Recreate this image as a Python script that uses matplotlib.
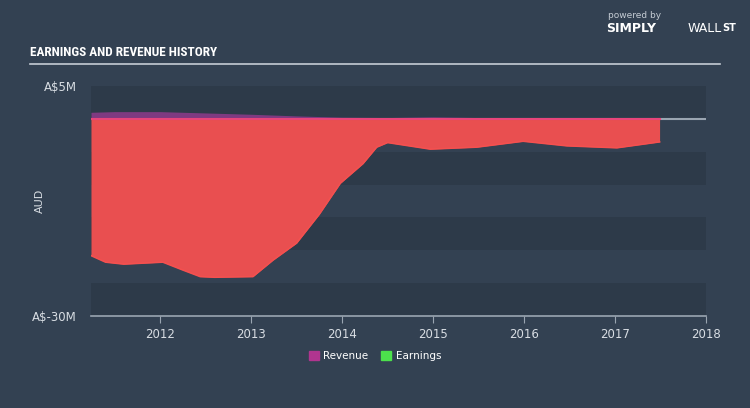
import matplotlib.pyplot as plt
import numpy as np

# data (A$ millions)
years_earn = [2011.24, 2011.40, 2011.60, 2012.03, 2012.25, 2012.44, 2012.60,
              2013.02, 2013.24, 2013.50, 2013.75, 2013.98, 2014.23, 2014.38,
              2014.50, 2014.97, 2015.48, 2015.99, 2016.47, 2017.02, 2017.49]
earnings = [-20.8, -21.8, -22.1, -21.8, -23.0, -24.0, -24.1,
            -24.0, -21.5, -18.9, -14.5, -9.8, -6.8, -4.3,
            -3.6, -4.6, -4.3, -3.4, -4.1, -4.4, -3.5]

years_rev = [2011.24, 2011.5, 2012.0, 2012.5, 2013.0, 2013.5, 2014.0,
             2014.5, 2015.0, 2015.5, 2016.0, 2016.5, 2017.0, 2017.49]
revenue = [1.0, 1.1, 1.1, 0.9, 0.7, 0.45, 0.25,
           0.2, 0.3, 0.2, 0.1, 0.1, 0.1, 0.1]

year_ticks = [2012, 2013, 2014, 2015, 2016, 2017, 2018]
y_ticks = [5, -30]
y_tick_labels = ['A$5M', 'A$-30M']

bg = '#334152'
band = '#2d3a49'
txt = '#d8dde3'

fig = plt.figure(figsize=(7.5, 4.08), dpi=100, facecolor=bg)
ax = fig.add_axes([0.1213, 0.2255, 0.82, 0.5637])
ax.set_facecolor(bg)

# horizontal bands
for lo in [0, -10, -20, -30]:
    ax.axhspan(lo, lo + 5, color=band, zorder=0, lw=0)

ax.axhline(0, color='#9aa5b1', lw=1.5, zorder=1)

ax.fill_between(years_rev, 0, revenue, color='#8e3a8c', alpha=0.85, lw=0, zorder=2)
ax.fill_between(years_earn, 0, earnings, color='#e94f50', lw=0, zorder=3)
ax.plot(years_earn, earnings, color='#f4504f', lw=1.2, zorder=4)
ax.plot([years_earn[0], years_earn[-1]], [0, 0], color='#e8457a', lw=1.5, zorder=5)

ax.set_xlim(2011.24, 2018)
ax.set_ylim(-30, 5)

ax.set_yticks(y_ticks)
ax.set_yticklabels(y_tick_labels)
ax.set_xticks(year_ticks)
ax.set_xticklabels([str(y) for y in year_ticks])
ax.tick_params(axis='y', length=0, colors=txt, labelsize=8.5, pad=10)
ax.tick_params(axis='x', length=5, color='#9aa5b1', colors=txt, labelsize=8.5, pad=4)
for s in ['top', 'right', 'left']:
    ax.spines[s].set_visible(False)
ax.spines['bottom'].set_color('#9aa5b1')
ax.spines['bottom'].set_linewidth(1.2)

ax.set_ylabel('AUD', color=txt, fontsize=8)
ax.yaxis.set_label_coords((45 - 91) / 615, 0.5)

# title and rule
fig.text(30 / 750, 1 - 53 / 408, 'EARNINGS AND REVENUE HISTORY', color='white',
         fontsize=9.5, fontweight='bold',
         family=['Roboto Condensed', 'Roboto', 'DejaVu Sans'], va='center', ha='left')
fig.add_artist(plt.Line2D([30 / 750, 720 / 750], [1 - 64 / 408, 1 - 64 / 408],
                          color='#c5ccd4', lw=1.2))

# logo text
fig.text(608 / 750, 1 - 15 / 408, 'powered by', color='#c5ccd4', fontsize=6.5,
         ha='left', va='center')
fig.text(606 / 750, 1 - 28 / 408, 'SIMPLY', color='white', fontsize=9,
         fontweight='bold', ha='left', va='center')
fig.text(688 / 750, 1 - 28 / 408, 'WALL', color='white', fontsize=9,
         ha='left', va='center')
fig.text(722 / 750, 1 - 28 / 408, 'ST', color='white', fontsize=7,
         fontweight='bold', ha='left', va='center')

# legend
handles = [plt.Rectangle((0, 0), 1, 1, color='#b0358f'),
           plt.Rectangle((0, 0), 1, 1, color='#4ce14c')]
leg = fig.legend(handles, ['Revenue', 'Earnings'], loc='center',
                 bbox_to_anchor=(0.5, 1 - 356 / 408), ncol=2, frameon=False,
                 fontsize=7.5, handlelength=1.0, handleheight=1.0,
                 handletextpad=0.4, columnspacing=1.2)
for t in leg.get_texts():
    t.set_color('white')

fig.savefig('out.png', dpi=100, facecolor=bg)
